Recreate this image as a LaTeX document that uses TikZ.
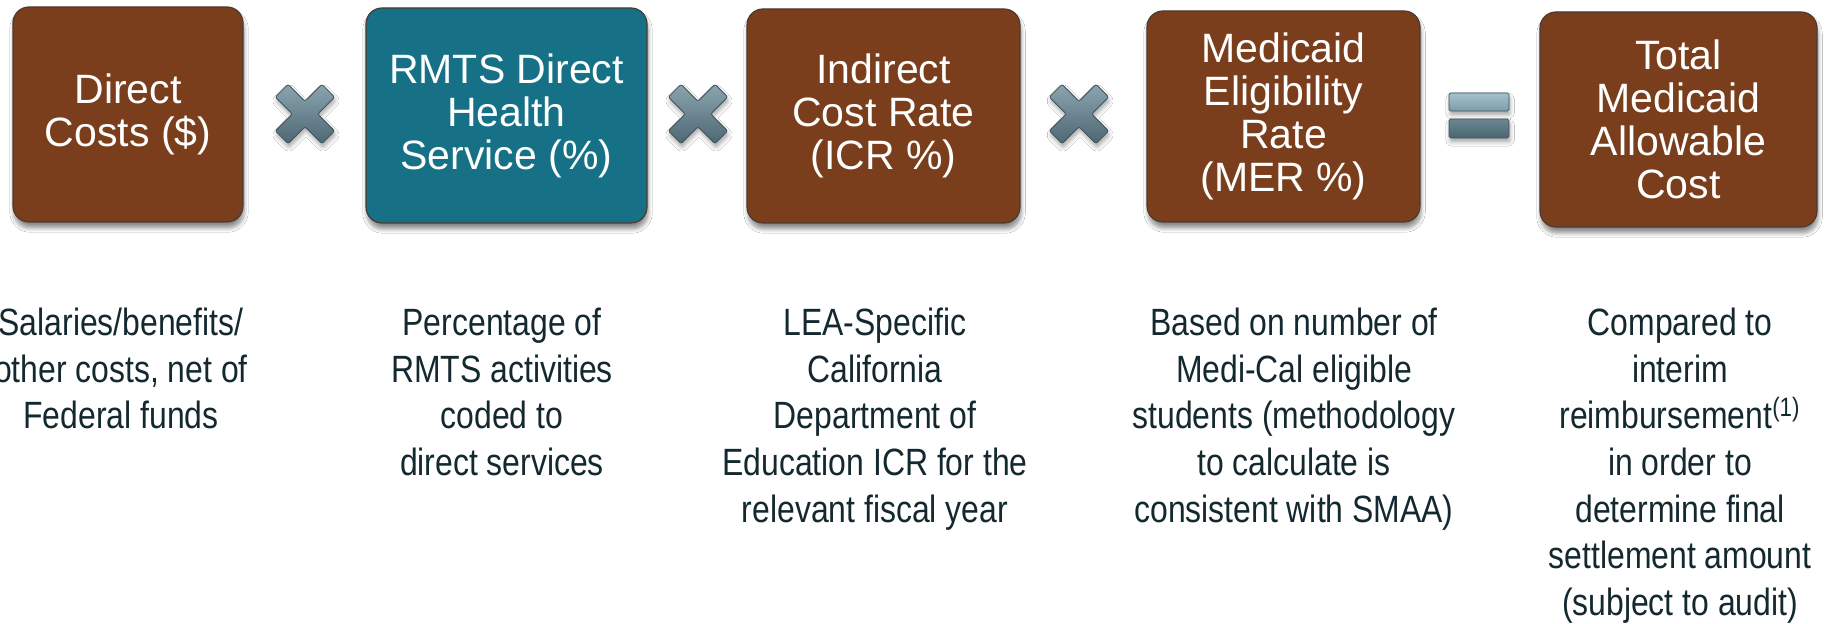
\documentclass[tikz,border=0pt]{standalone}
\usepackage{fontspec}
\setmainfont{Liberation Sans}
\newfontfamily\narrowfont[FakeStretch=0.84]{Liberation Sans}
\usetikzlibrary{shadows.blur}
\definecolor{boxbrown}{HTML}{7A3E1C}
\definecolor{boxteal}{HTML}{167187}
\definecolor{edgegray}{HTML}{4A3A30}
\definecolor{notetext}{HTML}{14292F}
\definecolor{crosstop}{HTML}{8AA5B0}
\definecolor{crossbot}{HTML}{4D6873}
\definecolor{crossedge}{HTML}{3F535B}
\definecolor{eqtop}{HTML}{A3C2CE}
\definecolor{eqtopb}{HTML}{7C9CA8}
\definecolor{eqbot}{HTML}{6A8792}
\definecolor{eqbotb}{HTML}{4A6570}
\begin{document}
\begin{tikzpicture}[x=0.5pt,y=-0.5pt,
  factor/.style={rectangle, rounded corners=8pt, draw=edgegray, line width=0.6pt,
    text=white, align=center, font=\fontsize{20.5}{21.5}\selectfont, inner sep=0pt,
    blur shadow={shadow xshift=0.5pt, shadow yshift=-3pt, shadow blur steps=6, shadow opacity=45}},
  note/.style={anchor=north, align=center, inner sep=0pt, text=notetext,
    font=\narrowfont\fontsize{19}{23.35}\selectfont},
  timessign/.pic={
    \shade[top color=crosstop, bottom color=crossbot, draw=crossedge, line width=0.4pt,
      rounded corners=1pt,
      blur shadow={shadow xshift=0.5pt, shadow yshift=-2pt, shadow blur steps=5, shadow opacity=35}]
      (-16.97,29.70) -- (0,12.73) -- (16.97,29.70) -- (29.70,16.97) -- (12.73,0)
      -- (29.70,-16.97) -- (16.97,-29.70) -- (0,-12.73) -- (-16.97,-29.70)
      -- (-29.70,-16.97) -- (-12.73,0) -- (-29.70,16.97) -- cycle;
  },
  eqbar/.style={rounded corners=0.8pt, draw=crossedge, line width=0.4pt,
    blur shadow={shadow xshift=0.5pt, shadow yshift=-2pt, shadow blur steps=5, shadow opacity=35}}
]
\useasboundingbox[fill=white] (0,0) rectangle (1825,624);

% factor boxes
\node[factor, fill=boxbrown, minimum width=115pt, minimum height=107.5pt] (dc) at (128,114.5) {Direct\\Costs (\$)};
\node[factor, fill=boxteal, minimum width=140.5pt, minimum height=107.5pt] (rmts) at (506.5,115.5) {RMTS Direct\\Health\\Service (\%)};
\node[factor, fill=boxbrown, minimum width=136.5pt, minimum height=107pt] (icr) at (883.5,116) {Indirect\\Cost Rate\\(ICR \%)};
\node[factor, fill=boxbrown, minimum width=136.5pt, minimum height=105.5pt] (mer) at (1283.5,116.5) {Medicaid\\Eligibility\\Rate\\(MER \%)};
\node[factor, fill=boxbrown, minimum width=138.5pt, minimum height=107.5pt] (tot) at (1678.5,119.5) {Total\\Medicaid\\Allowable\\Cost};

% operators
\pic at (305,114) {timessign};
\pic at (698,114) {timessign};
\pic at (1079,114) {timessign};
\shade[eqbar, top color=eqtop, bottom color=eqtopb] (1449,93) rectangle (1509,111);
\shade[eqbar, top color=eqbot, bottom color=eqbotb] (1449,119) rectangle (1509,138);

% notes
\node[note] (n1) at (121,305) {\rule{0pt}{15pt}Salaries/benefits/\\other costs, net of\\Federal funds};
\node[note] (n2) at (502,305) {\rule{0pt}{15pt}Percentage of\\RMTS activities\\coded to\\direct services};
\node[note] (n3) at (875,305) {\rule{0pt}{15pt}LEA-Specific\\California\\Department of\\Education ICR for the\\relevant fiscal year};
\node[note] (n4) at (1294,305) {\rule{0pt}{15pt}Based on number of\\Medi-Cal eligible\\students (methodology\\to calculate is\\consistent with SMAA)};
\node[note] (n5) at (1680,305) {\rule{0pt}{15pt}Compared to\\interim\\reimbursement\textsuperscript{(1)}\\in order to\\determine final\\settlement amount\\(subject to audit)};
\end{tikzpicture}
\end{document}
